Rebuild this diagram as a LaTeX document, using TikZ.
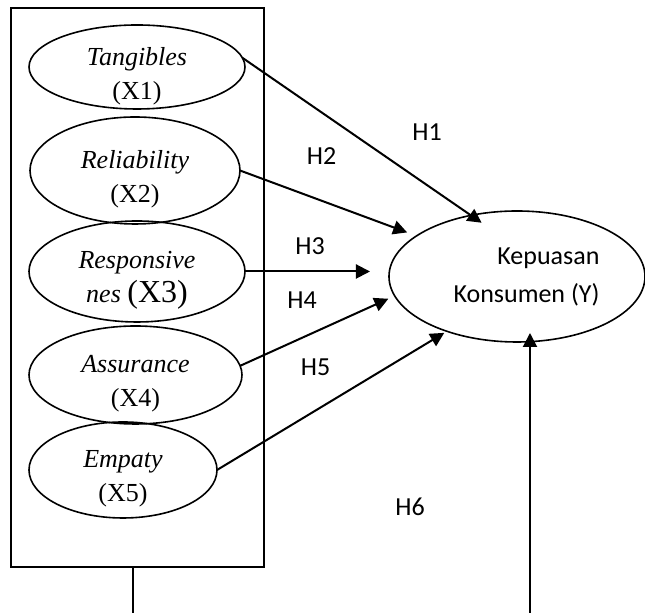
\documentclass[tikz,border=0pt]{standalone}
\usepackage{fontspec}
\setmainfont{Liberation Serif}
\newfontfamily\calibri{Carlito}
\usetikzlibrary{positioning,shapes.geometric,arrows.meta}

\begin{document}
\begin{tikzpicture}[
    x=0.5pt, y=-0.5pt,
    construct/.style={ellipse, draw, line width=0.8pt, outer sep=0pt, inner sep=0pt},
    cname/.style={align=center, inner sep=0pt, font=\fontsize{13}{17}\selectfont, yshift=-4.5pt},
    ytxt/.style={align=right, inner sep=0pt, font=\calibri\fontsize{13}{19}\selectfont, xshift=4.75pt},
    hyp/.style={inner sep=0pt, font=\calibri\fontsize{13}{15}\selectfont},
    arrow/.style={-{Triangle[length=7pt,width=7pt]}, line width=1pt}
  ]
    \useasboundingbox (0,0) rectangle (645,613);

    \node[draw, line width=1pt, minimum width=126.5pt, minimum height=279.5pt] (box) at (137.5,287.5) {};

    \node[construct, minimum width=108pt, minimum height=42pt,
      label={[cname]center:\textit{Tangibles}\\(X1)}] (t1) at (137,67) {};
    \node[construct, minimum width=105pt, minimum height=53.5pt, below=4pt of t1, xshift=-1pt,
      label={[cname]center:\textit{Reliability}\\(X2)}] (t2) {};
    \node[construct, minimum width=108pt, minimum height=50.5pt, below=-1.5pt of t2, xshift=1pt,
      label={[cname]center:\textit{Responsive}\\\textit{nes} {\fontsize{16}{17}\selectfont(X3)}}] (t3) {};
    \node[construct, minimum width=106.5pt, minimum height=49pt, below=2pt of t3, xshift=-0.75pt,
      label={[cname]center:\textit{Assurance}\\(X4)}] (t4) {};
    \node[construct, minimum width=94pt, minimum height=48pt, below=-1pt of t4, xshift=-6.25pt,
      label={[cname]center:\textit{Empaty}\\(X5)}] (t5) {};

    \node[construct, minimum width=128pt, minimum height=65.5pt,
      label={[ytxt]center:Kepuasan\\Konsumen (Y)}] (y) at (517,276.5) {};

    \node[hyp] (h1) at (427,132) {H1};
    \node[hyp] (h2) at (321.5,156.5) {H2};
    \node[hyp] (h3) at (310,246) {H3};
    \node[hyp] (h4) at (302,300.5) {H4};
    \node[hyp] (h5) at (315.5,367) {H5};
    \node[hyp] (h6) at (410,507) {H6};

    \draw[arrow, shorten >=-6.5pt] (t1.5) -- (y.127);
    \draw[arrow, shorten >=5pt] (t2.east) -- (y.158);
    \draw[arrow, shorten >=9.5pt] (t3.east) -- (t3.east -| y.west);
    \draw[arrow, shorten >=3.5pt] (t4.5) -- (y.189);
    \draw[arrow, shorten >=1.5pt] (t5.east) -- (y.218);

    \coordinate (base) at (530,613);
    \draw[arrow, shorten >=-4.5pt] (base) -- (base |- y.south);
    \coordinate (stub) at (133,613);
    \draw[line width=1pt] (stub |- box.south) -- (stub);
  \end{tikzpicture}
\end{document}
